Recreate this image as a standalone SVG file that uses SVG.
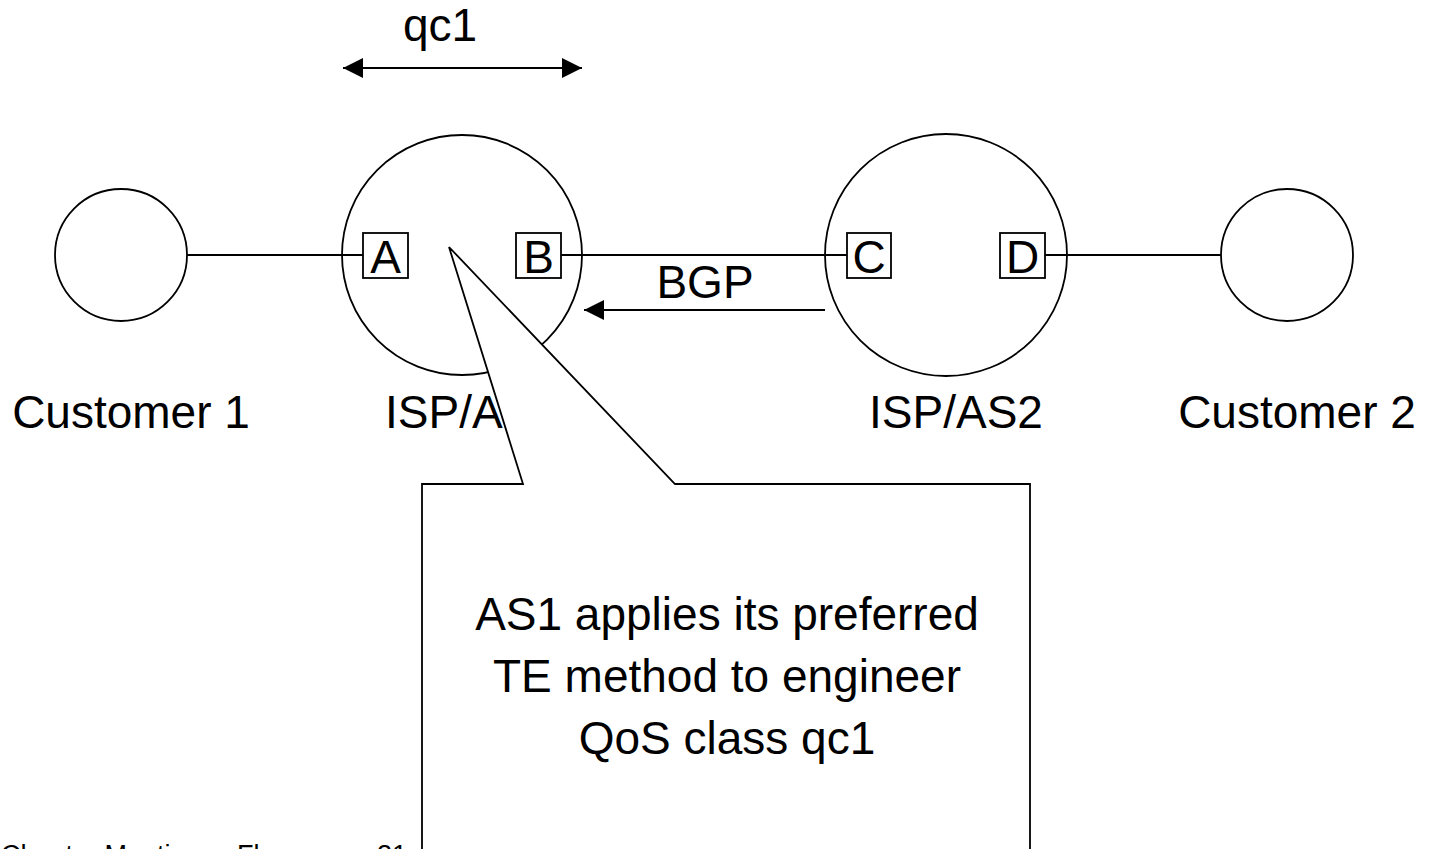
<svg xmlns="http://www.w3.org/2000/svg" width="1436" height="849" viewBox="0 0 1436 849">
<defs>
<style>
.s{fill:none;stroke:#000;stroke-width:1.8}
.n{fill:#fff;stroke:#000;stroke-width:1.8}
.t{font-family:"Liberation Sans",Arial,sans-serif;font-size:46px;fill:#000}
.m{text-anchor:middle}
.f{font-family:"Liberation Sans",Arial,sans-serif;font-size:27px;fill:#000}
</style>
<marker id="ah" viewBox="0 0 20 20" refX="20" refY="10" markerWidth="20" markerHeight="20" markerUnits="userSpaceOnUse" orient="auto-start-reverse">
<path d="M0,0 L20,10 L0,20 Z" fill="#000"/>
</marker>
</defs>
<rect width="1436" height="849" fill="#fff"/>
<g id="connectors">
<line class="s" x1="187" y1="255" x2="363" y2="255"/>
<line class="s" x1="561" y1="255" x2="847" y2="255"/>
<line class="s" x1="1045" y1="255" x2="1221" y2="255"/>
<line class="s" x1="825" y1="310" x2="584" y2="310" marker-end="url(#ah)"/>
<line class="s" x1="343" y1="68" x2="582" y2="68" marker-start="url(#ah)" marker-end="url(#ah)"/>
</g>
<g id="customer1">
<circle class="n" cx="121" cy="255" r="66"/>
<text class="t m" x="131" y="428">Customer 1</text>
</g>
<g id="ispas1">
<circle class="s" cx="462" cy="255" r="120"/>
<text class="t m" x="472" y="428">ISP/AS1</text>
</g>
<g id="ispas2">
<circle class="s" cx="946" cy="255" r="121"/>
<text class="t m" x="956" y="428">ISP/AS2</text>
</g>
<g id="customer2">
<circle class="n" cx="1287" cy="255" r="66"/>
<text class="t m" x="1297" y="428">Customer 2</text>
</g>
<g id="portA"><rect class="n" x="363" y="233" width="45" height="45"/><text class="t m" x="385.5" y="273">A</text></g>
<g id="portB"><rect class="n" x="516" y="233" width="45" height="45"/><text class="t m" x="538.5" y="273">B</text></g>
<g id="portC"><rect class="n" x="847" y="233" width="44" height="45"/><text class="t m" x="869" y="273">C</text></g>
<g id="portD"><rect class="n" x="1000" y="233" width="45" height="45"/><text class="t m" x="1022.5" y="273">D</text></g>
<g id="labels">
<text class="t m" x="705" y="298">BGP</text>
<text class="t m" x="440" y="41">qc1</text>
<text class="f" x="1" y="864">Chapter Meeting</text>
<text class="f" x="237" y="864">Florence</text>
<text class="f" x="377" y="864">21</text>
</g>
<g id="callout">
<path class="n" d="M449,247 L523,484 L422,484 L422,860 L1030,860 L1030,484 L675,484 Z"/>
<text class="t m" x="727" y="630">AS1 applies its preferred</text>
<text class="t m" x="727" y="692">TE method to engineer</text>
<text class="t m" x="727" y="754">QoS class qc1</text>
</g>
</svg>
